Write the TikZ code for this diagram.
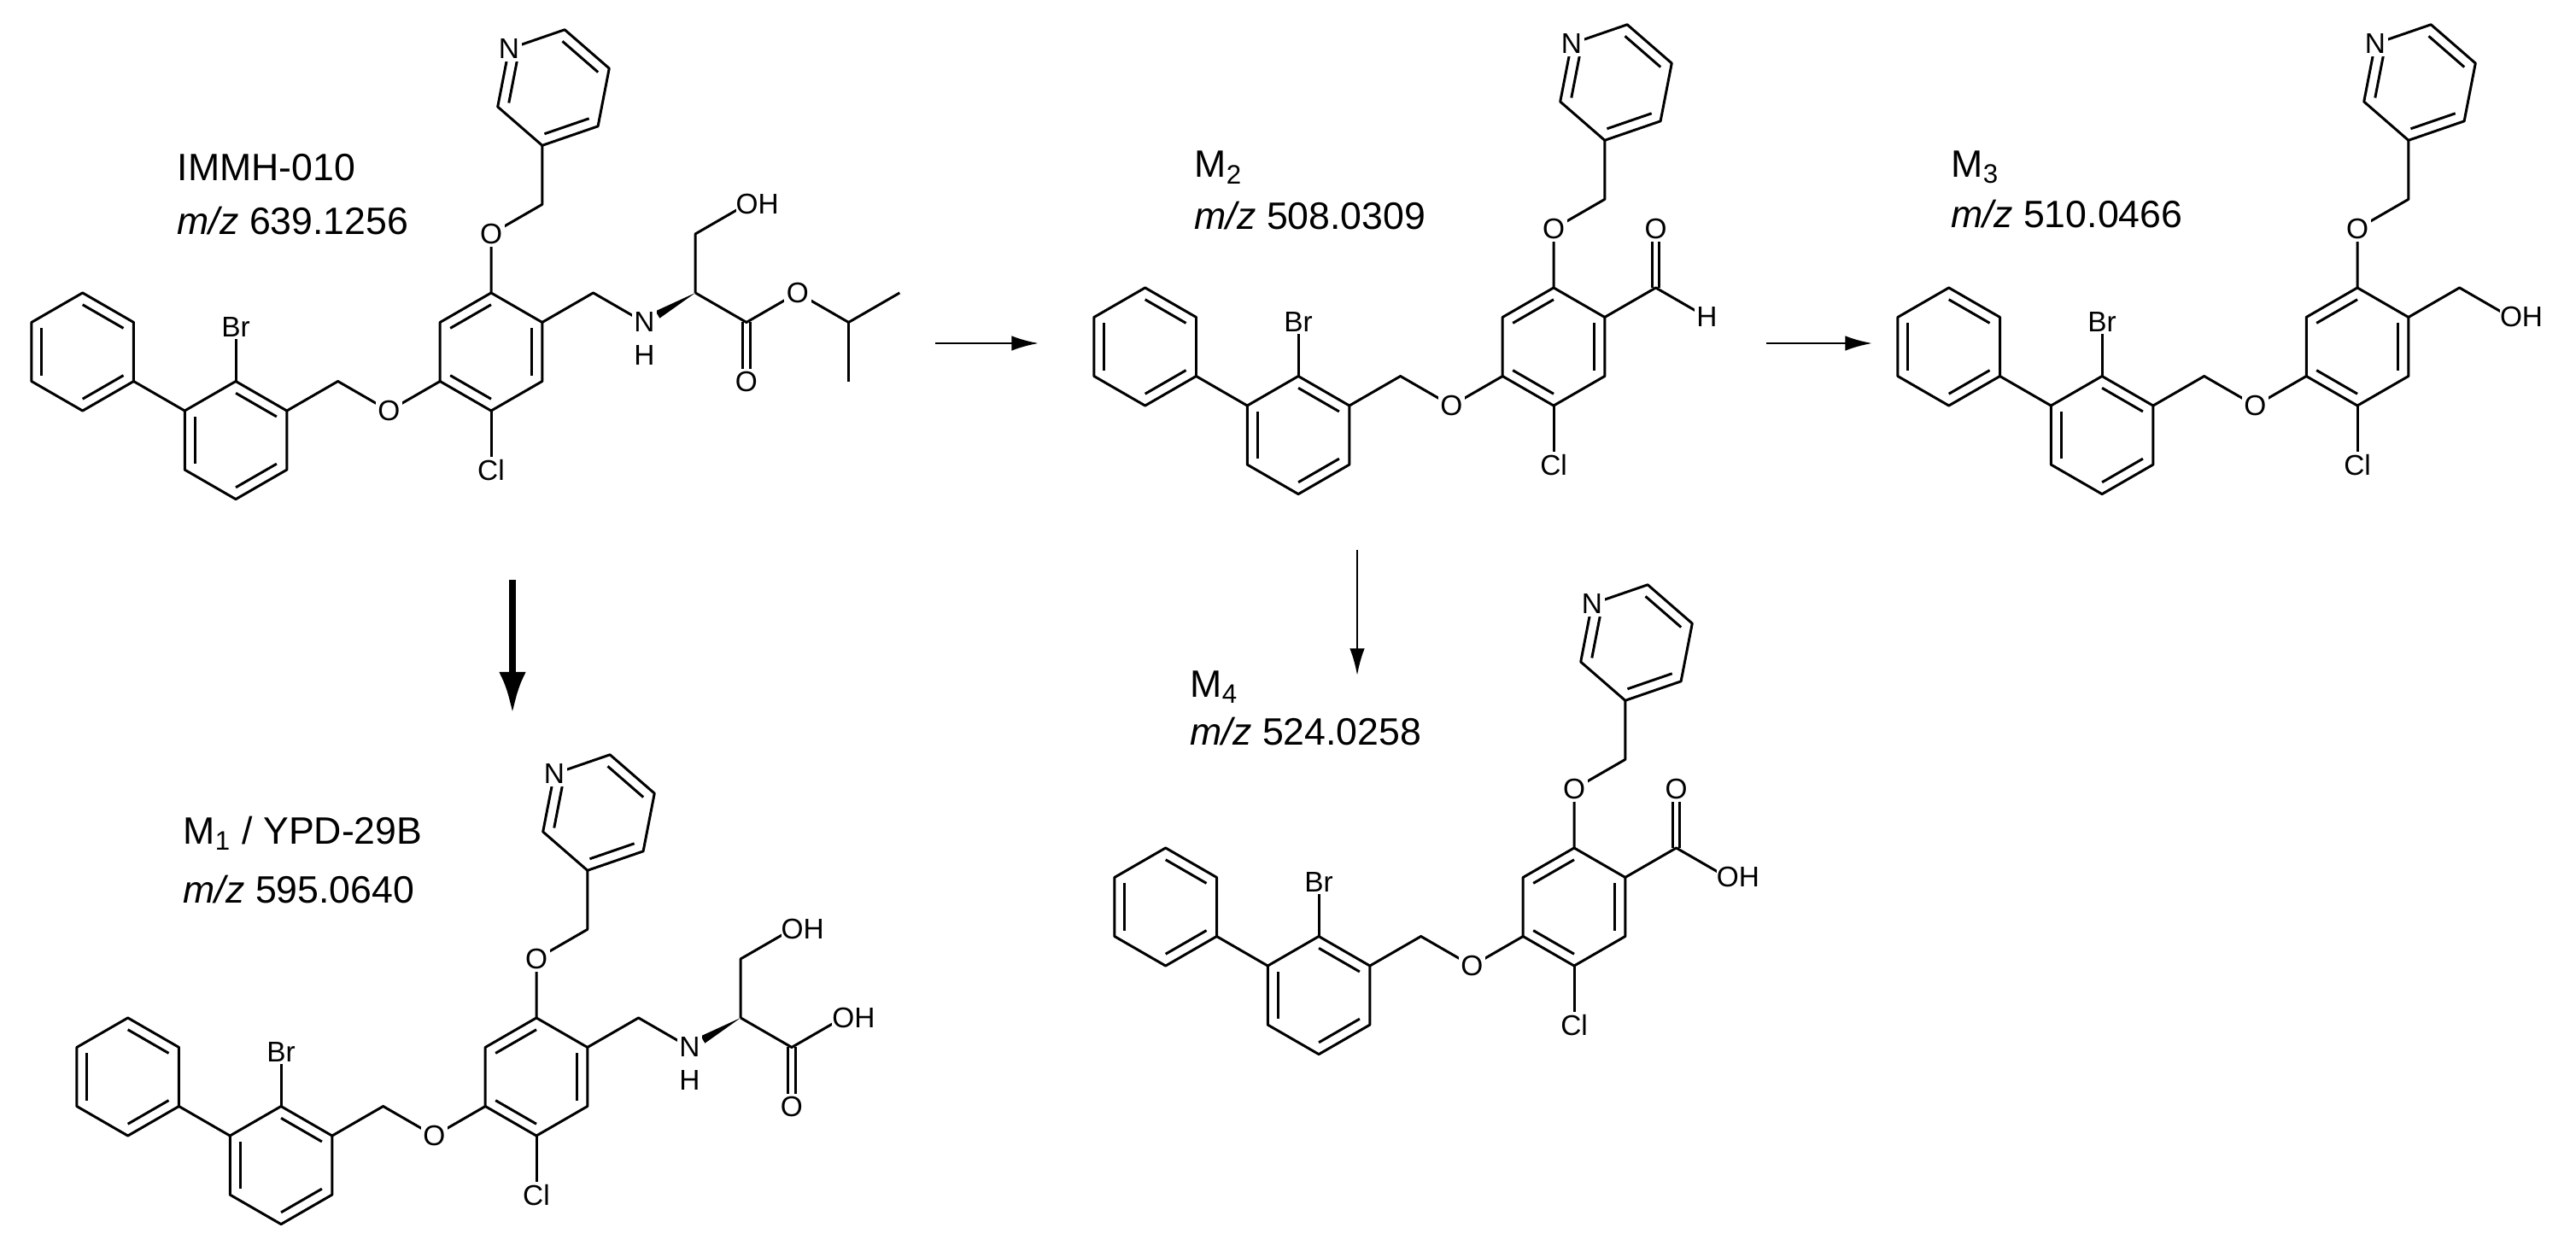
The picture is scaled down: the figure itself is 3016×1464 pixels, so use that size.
\documentclass[tikz,border=0pt]{standalone}
\usepackage{fontspec}
\setmainfont{Liberation Sans}
\usetikzlibrary{calc,arrows.meta}
\tikzset{
  lbl/.style={font=\fontsize{9.5}{11}\selectfont, fill=white, inner sep=0.8pt},
  molcap/.style={font=\fontsize{12.7}{15}\selectfont, anchor=west, inner sep=0pt},
  rxn/.style={-{Latex[length=9pt,width=5pt]}, line width=0.8pt},
  rxnbold/.style={-{Latex[length=14pt,width=9pt]}, line width=2.4pt},
  bond/.style={line width=0.85pt, line join=round}
}
\newcommand\ringat[4]{%
  \coordinate (#2c) at (#1);
  \foreach \k in {1,...,6}{\coordinate (#2\k) at ($(#2c)+({#3+(\k-1)*(#4)}:1)$);}
  \draw[bond] (#21)--(#22)--(#23)--(#24)--(#25)--(#26)--cycle;}
\newcommand\dbl[3]{\draw[bond] ($(#1#2)!0.2!(#1c)$)--($(#1#3)!0.2!(#1c)$);}
\newcommand\OHat[1]{\node[lbl,anchor=west,inner xsep=0pt] (ohl) at ($(#1)+(-0.19,0)$) {OH};}
\newcommand\molcore{%
  \ringat{0,0}{c}{90}{-60}\dbl{c}{6}{1}\dbl{c}{2}{3}\dbl{c}{4}{5}
  \ringat{-4.33,-1.5}{b}{90}{-60}\dbl{b}{1}{2}\dbl{b}{5}{6}\dbl{b}{3}{4}
  \ringat{-6.928,0}{a}{90}{-60}\dbl{a}{1}{2}\dbl{a}{5}{6}\dbl{a}{3}{4}
  \draw[bond] (a3)--(b6);
  \coordinate (ch2b) at (-2.598,-0.5); \coordinate (o1) at (-1.732,-1);
  \draw[bond] (b2)--(ch2b)--(o1)--(c5);
  \coordinate (br) at (-4.33,0.42); \draw[bond] (b1)--(br);
  \coordinate (cl) at (0,-2); \draw[bond] (c4)--(cl);
  \coordinate (o2) at (0,2); \coordinate (ch2p) at (0.866,2.5);
  \ringat{1.057,4.482}{p}{259}{60}\dbl{p}{5}{6}\dbl{p}{1}{2}\dbl{p}{3}{4}
  \draw[bond] (c1)--(o2)--(ch2p)--(p1);}
\newcommand\molcorelabels{%
  \node[lbl] (o1l) at (o1) {O}; \node[lbl] (brl) at (br) {Br};
  \node[lbl] (cll) at (cl) {Cl}; \node[lbl] (o2l) at (o2) {O};
  \node[lbl] (nl) at (p5) {N};}
\newcommand\serine{%
  \coordinate (t1) at (1.732,1); \coordinate (nn) at (2.598,0.5);
  \coordinate (al) at (3.464,1); \coordinate (t2) at (3.464,2);
  \coordinate (oh) at (4.33,2.5); \coordinate (cc) at (4.33,0.5);
  \coordinate (od) at (4.33,-0.5); \coordinate (oe) at (5.196,1);
  \draw[bond] (c2)--(t1)--(nn); \draw[bond] (al)--(t2)--(oh);
  \draw[bond] (al)--(cc)--(oe);
  \draw[bond] ($(cc)+(-0.06,0)$)--($(od)+(-0.06,0)$);
  \draw[bond] ($(cc)+(0.06,0)$)--($(od)+(0.06,0)$);
  \fill (al) -- ($(al)!0.74!(nn)+(0.035,-0.06)$) -- ($(al)!0.74!(nn)+(-0.035,0.06)$) -- cycle;}
\newcommand\serinelabels{%
  \node[lbl] (nnl) at (nn) {N}; \node[lbl] (hl) at (2.598,-0.06) {H};
  \OHat{oh} \node[lbl] (odl) at (od) {O};}
\begin{document}
\begin{tikzpicture}[x=0.01cm,y=-0.01cm]
\useasboundingbox (0,0) rectangle (3016,1464);
% IMMH-010
\begin{scope}[shift={(575,412)},x=0.69cm,y=0.69cm]
  \molcore \serine
  \coordinate (ch) at (6.062,0.5); \coordinate (me1) at (6.928,1); \coordinate (me2) at (6.062,-0.5);
  \draw[bond] (oe)--(ch)--(me1); \draw[bond] (ch)--(me2);
  \molcorelabels \serinelabels \node[lbl] (oel) at (oe) {O};
\end{scope}
\node[molcap] (lab0) at (207,196) {IMMH-010};
\node[molcap] (mz0) at (207,259) {\textit{m/z} 639.1256};
% M1
\begin{scope}[shift={(628,1261)},x=0.69cm,y=0.69cm]
  \molcore \serine
  \molcorelabels \serinelabels \OHat{oe}
\end{scope}
\node[molcap] (lab1) at (214,976) {M\textsubscript{1} / YPD-29B};
\node[molcap] (mz1) at (214,1042) {\textit{m/z} 595.0640};
% M2
\begin{scope}[shift={(1819,406)},x=0.69cm,y=0.69cm]
  \molcore
  \coordinate (t1) at (1.732,1); \coordinate (ot) at (1.732,2); \coordinate (hh) at (2.598,0.5);
  \draw[bond] (c2)--(t1)--(hh);
  \draw[bond] ($(t1)+(-0.06,0)$)--($(ot)+(-0.06,0)$);
  \draw[bond] ($(t1)+(0.06,0)$)--($(ot)+(0.06,0)$);
  \molcorelabels \node[lbl] (otl) at (ot) {O}; \node[lbl] (hhl) at (hh) {H};
\end{scope}
\node[molcap] (lab2) at (1398,196) {M\textsubscript{2}};
\node[molcap] (mz2) at (1398,253) {\textit{m/z} 508.0309};
% M3
\begin{scope}[shift={(2760,406)},x=0.69cm,y=0.69cm]
  \molcore
  \coordinate (t1) at (1.732,1); \coordinate (oh) at (2.598,0.5);
  \draw[bond] (c2)--(t1)--(oh);
  \molcorelabels \OHat{oh}
\end{scope}
\node[molcap] (lab3) at (2284,196) {M\textsubscript{3}};
\node[molcap] (mz3) at (2284,251) {\textit{m/z} 510.0466};
% M4
\begin{scope}[shift={(1843,1062)},x=0.69cm,y=0.69cm]
  \molcore
  \coordinate (t1) at (1.732,1); \coordinate (ot) at (1.732,2); \coordinate (oh) at (2.598,0.5);
  \draw[bond] (c2)--(t1)--(oh);
  \draw[bond] ($(t1)+(-0.06,0)$)--($(ot)+(-0.06,0)$);
  \draw[bond] ($(t1)+(0.06,0)$)--($(ot)+(0.06,0)$);
  \molcorelabels \node[lbl] (otl) at (ot) {O}; \OHat{oh}
\end{scope}
\node[molcap] (lab4) at (1393,805) {M\textsubscript{4}};
\node[molcap] (mz4) at (1393,857) {\textit{m/z} 524.0258};
% arrows
\coordinate (a1s) at (1095,402); \coordinate (a1e) at (1216,402);
\coordinate (a2s) at (2068,402); \coordinate (a2e) at (2192,402);
\coordinate (a3s) at (1589,644); \coordinate (a3e) at (1589,791);
\coordinate (a4s) at (600,679); \coordinate (a4e) at (600,836);
\draw[rxn] (a1s)--(a1e);
\draw[rxn] (a2s)--(a2e);
\draw[rxn] (a3s)--(a3e);
\draw[rxnbold] (a4s)--(a4e);
\end{tikzpicture}
\end{document}
